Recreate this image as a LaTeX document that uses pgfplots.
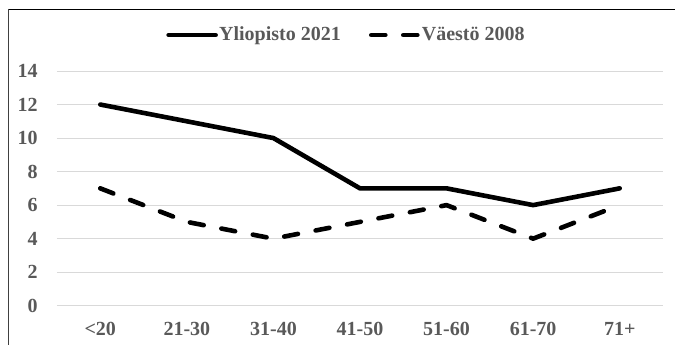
\documentclass[border=0pt]{standalone}
\usepackage{fontspec}
\setmainfont{Liberation Serif}
\usepackage{pgfplots}
\pgfplotsset{compat=1.18}
\definecolor{labelgray}{HTML}{595959}
\definecolor{gridgray}{HTML}{D9D9D9}
\definecolor{framegray}{HTML}{404040}

\begin{document}
\begin{tikzpicture}
\useasboundingbox (0pt,0pt) rectangle (337.5pt,172.5pt);
% chart frame (top and left edges)
\draw[black, line width=0.8pt] (4.15pt,167.85pt) -- (337.5pt,167.85pt);
\draw[framegray, line width=0.8pt] (4.15pt,168.05pt) -- (4.15pt,0pt);
\begin{axis}[
  at={(28.5pt,19.65pt)}, anchor=south west,
  width=303pt, height=117.35pt, scale only axis,
  xmin=-0.5, xmax=6.5, ymin=0, ymax=14,
  xtick={0,...,6},
  xticklabels={<20,21-30,31-40,41-50,51-60,61-70,71+},
  ytick={0,2,...,14},
  ymajorgrids, grid style={gridgray, line width=0.5pt},
  axis line style={draw=none},
  major tick length=0pt,
  /pgf/number format/assume math mode=true,
  ticklabel style={font=\fontsize{10}{12}\selectfont\bfseries, text=labelgray},
  yticklabel style={anchor=east, inner sep=0pt, xshift=-9.5pt},
  xticklabel style={anchor=north, inner sep=0pt, yshift=-8pt},
  clip=false,
  legend columns=2,
  legend style={
    at={(0.477,1.153)}, anchor=center, draw=none, fill=none,
    font=\fontsize{10}{12}\selectfont\bfseries, text=labelgray,
    nodes={inner sep=0.6pt},
    /tikz/every even column/.append style={column sep=13.5pt},
  },
  legend image code/.code={\draw[#1] (0pt,0pt) -- (23.5pt,0pt);},
]
\addplot[black, line width=2.3pt, line cap=round, line join=round]
  coordinates {(0,12) (1,11) (2,10) (3,7) (4,7) (5,6) (6,7)};
\addlegendentry{Yliopisto 2021}
\addplot[black, line width=2.3pt, line cap=round, line join=round, dash pattern=on 7pt off 9pt]
  coordinates {(0,7) (1,5) (2,4) (3,5) (4,6) (5,4) (6,6)};
\addlegendentry{Väestö 2008}
\end{axis}
\end{tikzpicture}
\end{document}
